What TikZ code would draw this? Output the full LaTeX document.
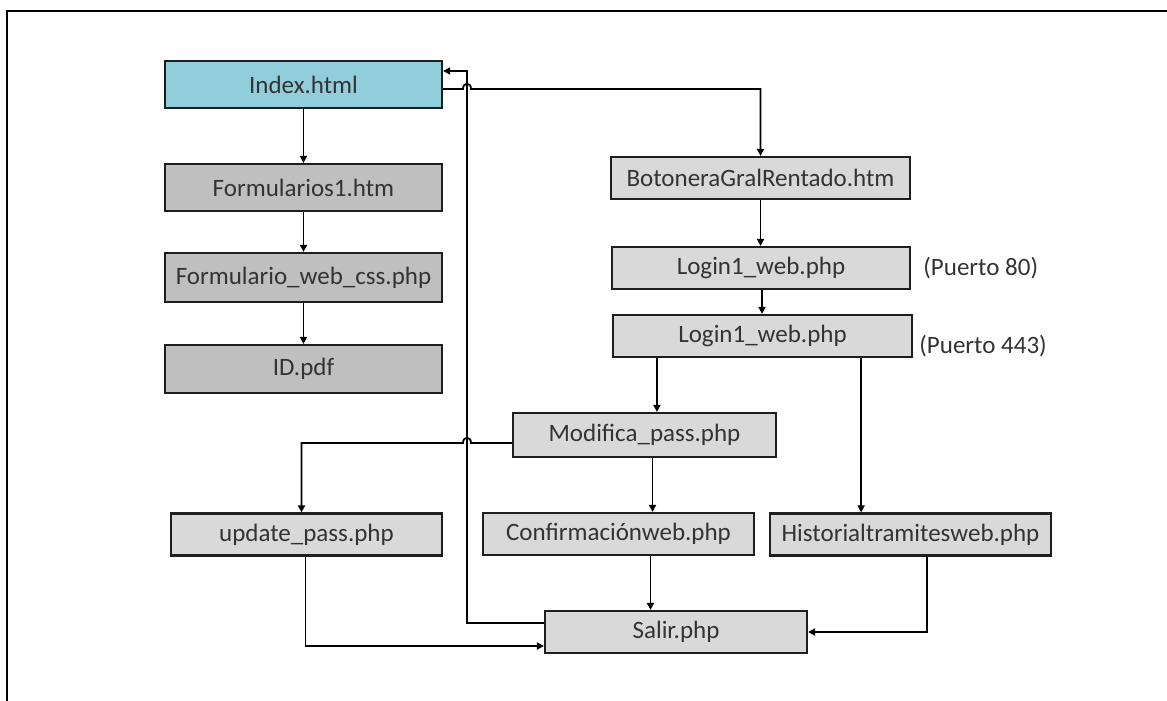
\documentclass[tikz,border=0pt]{standalone}
\usepackage{fontspec}
\setmainfont{Carlito}
\usetikzlibrary{arrows.meta,calc}
\definecolor{idxblue}{HTML}{92CDDC}
\definecolor{darkbox}{HTML}{BFBFBF}
\definecolor{lightbox}{HTML}{D9D9D9}
\definecolor{txt}{HTML}{333333}
\definecolor{edge}{HTML}{1E1E1E}
\begin{document}
\begin{tikzpicture}[x=0.5pt,y=-0.5pt,
  box/.style={draw=edge,line width=1.1pt,text=txt,font=\fontsize{12.5}{15}\selectfont,inner sep=0pt,minimum height=21pt},
  leftbox/.style={box,fill=darkbox,minimum width=138.5pt},
  rightbox/.style={box,fill=lightbox},
  conn/.style={draw=black,line width=0.9pt},
  arr/.style={conn,-{Triangle[length=3.5pt,width=3.5pt]}},
  lbl/.style={text=txt,font=\fontsize{12.5}{15}\selectfont,anchor=west,inner sep=0pt}]
\useasboundingbox (0,0) rectangle (1167,701);
\draw[line width=1.4pt] (7,701) -- (7,11) -- (1167,11);

\node[box,fill=idxblue,minimum width=138.5pt,minimum height=23.5pt] (Index) at (303.5,84.5) {Index.html};
\node[leftbox,minimum height=23.5pt] (Form1) at (303.5,187.5) {Formularios1.htm};
\node[leftbox,minimum height=24.5pt] (FormWeb) at (303.5,277.5) {Formulario\_web\_css.php};
\node[leftbox,minimum height=24pt] (ID) at (303.5,369) {ID.pdf};

\node[rightbox,minimum width=149.5pt] (Boton) at (760.5,178) {BotoneraGralRentado.htm};
\node[rightbox,minimum width=149pt] (LogA) at (761,268) {Login1\_web.php};
\node[rightbox,minimum width=149.5pt] (LogB) at (762.5,336) {Login1\_web.php};
\node[lbl] (PA) at (923,268) {(Puerto 80)};
\node[lbl] (PB) at (919,346) {(Puerto 443)};
\node[rightbox,minimum width=131.5pt,minimum height=22pt] (Mod) at (644.5,435) {Modifica\_pass.php};
\node[rightbox,minimum width=135.5pt] (Upd) at (306.5,534.5) {update\_pass.php};
\node[rightbox,minimum width=135.5pt] (Conf) at (618.5,534) {Confirmaciónweb.php};
\node[rightbox,minimum width=140.5pt] (Hist) at (910.5,534.5) {Historialtramitesweb.php};
\node[rightbox,minimum width=131pt] (Salir) at (676,632) {Salir.php};

% left column
\draw[arr] (Index.south) -- (Form1.north);
\draw[arr] (Form1.south) -- (FormWeb.north);
\draw[arr] (FormWeb.south) -- (ID.north);

% Index -> Botonera (with hop over the return line)
\coordinate (i1) at ($(Index.east)+(0,4.5)$);
\draw[arr] (i1) -- (463,89) .. controls (463,82) and (471,82) .. (471,89) -- (Boton.north |- i1) -- (Boton.north);

% right column
\draw[arr] (Boton.south) -- (Boton.south |- LogA.north);
\coordinate (la) at ($(LogA.south)+(1,0)$);
\draw[arr] (la) -- (la |- LogB.north);
\coordinate (lb1) at ($(LogB.south west)+(45,0)$);
\draw[arr] (lb1) -- (lb1 |- Mod.north);
\coordinate (lb2) at ($(LogB.south east)+(-52,0)$);
\draw[arr] (lb2) -- (lb2 |- Hist.north);

% Modifica -> update (with hop) and -> Confirmacion
\coordinate (m1) at ($(Mod.west)+(0,8)$);
\coordinate (u1) at ($(Upd.north)+(-5,0)$);
\draw[arr] (m1) -- (471,443) .. controls (471,436) and (463,436) .. (463,443) -- (u1 |- m1) -- (u1);
\coordinate (m2) at ($(Mod.south)+(8,0)$);
\draw[arr] (m2) -- (m2 |- Conf.north);
\coordinate (c1) at ($(Conf.south)+(32,0)$);
\draw[arr] (c1) -- (c1 |- Salir.north);

% update -> Salir
\coordinate (s1) at ($(Salir.west)+(0,14)$);
\draw[arr] ($(Upd.south)+(-1,0)$) |- (s1);
% Historial -> Salir
\coordinate (h1) at ($(Hist.south)+(16.5,0)$);
\draw[arr] (h1) |- (Salir.east);

% Salir -> Index (return line)
\coordinate (s2) at ($(Salir.west)+(0,-9)$);
\coordinate (i2) at ($(Index.east)+(0,-13.5)$);
\draw[arr] (s2) -- (467,623) -- (467,71) -- (i2);
\end{tikzpicture}
\end{document}
